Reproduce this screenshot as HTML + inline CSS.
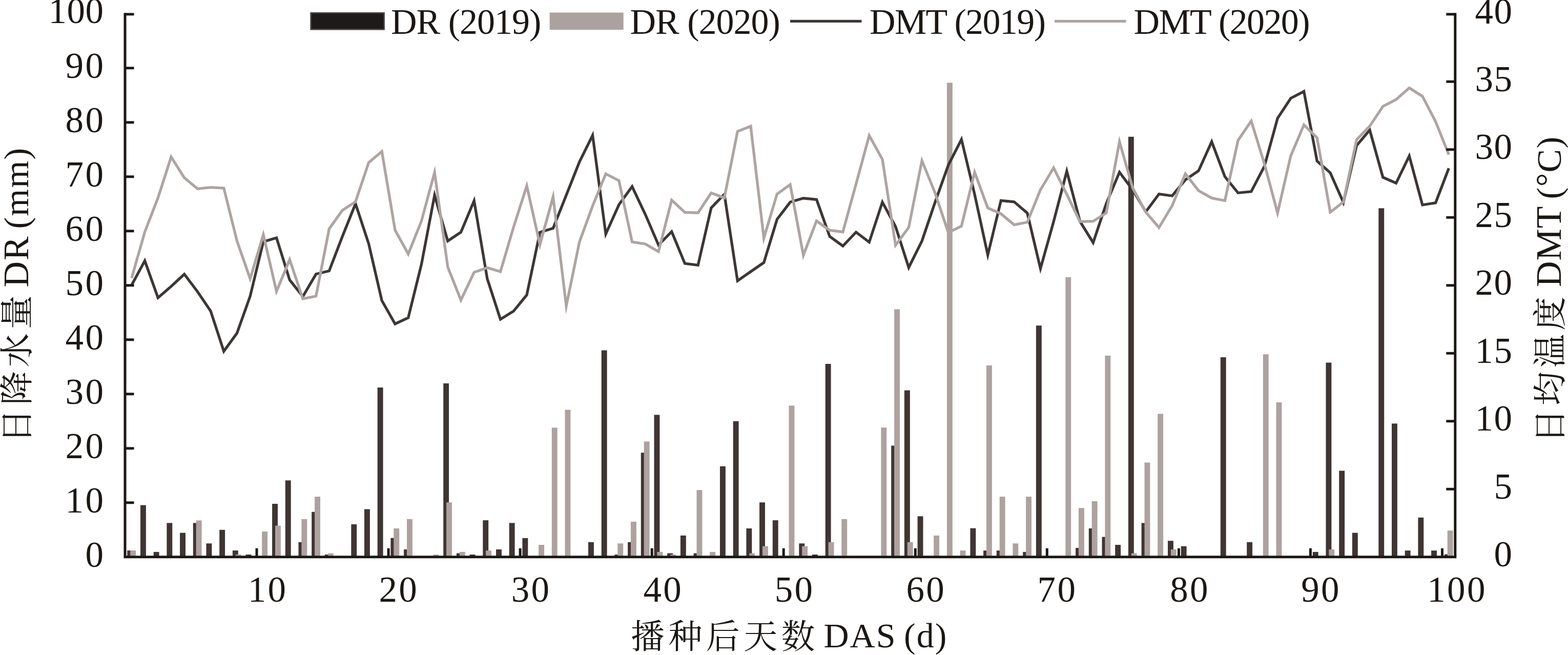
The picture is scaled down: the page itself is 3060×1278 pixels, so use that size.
<!DOCTYPE html><html><head><meta charset="utf-8"><title>chart</title><style>html,body{margin:0;padding:0;background:#fff}body{width:3060px;height:1278px;overflow:hidden}</style></head><body><svg width="3060" height="1278" viewBox="0 0 3060 1278" style="display:block">
<rect width="3060" height="1278" fill="#fff"/>
<g fill="#3f3533"><rect x="248.3" y="1074.1" width="10.9" height="12.7"/><rect x="274.0" y="985.6" width="10.9" height="101.2"/><rect x="299.7" y="1076.9" width="10.9" height="9.9"/><rect x="325.4" y="1020.4" width="10.9" height="66.4"/><rect x="351.1" y="1039.6" width="10.9" height="47.2"/><rect x="376.8" y="1020.4" width="10.9" height="66.4"/><rect x="402.5" y="1060.3" width="10.9" height="26.5"/><rect x="428.2" y="1033.8" width="10.9" height="53.0"/><rect x="453.9" y="1074.1" width="10.9" height="12.7"/><rect x="479.6" y="1082.0" width="10.9" height="4.8"/><rect x="531.1" y="983.0" width="10.9" height="103.8"/><rect x="556.8" y="937.3" width="10.9" height="149.5"/><rect x="582.5" y="1057.8" width="10.9" height="29.0"/><rect x="608.2" y="998.8" width="10.9" height="88.0"/><rect x="633.9" y="1082.0" width="10.9" height="4.8"/><rect x="685.3" y="1023.0" width="10.9" height="63.8"/><rect x="711.0" y="993.5" width="10.9" height="93.3"/><rect x="736.7" y="756.1" width="10.9" height="330.7"/><rect x="762.4" y="1049.7" width="10.9" height="37.1"/><rect x="788.1" y="1072.0" width="10.9" height="14.8"/><rect x="865.2" y="748.0" width="10.9" height="338.8"/><rect x="890.9" y="1079.5" width="10.9" height="7.3"/><rect x="916.6" y="1082.0" width="10.9" height="4.8"/><rect x="942.3" y="1015.1" width="10.9" height="71.7"/><rect x="968.0" y="1072.0" width="10.9" height="14.8"/><rect x="993.7" y="1020.4" width="10.9" height="66.4"/><rect x="1019.4" y="1049.9" width="10.9" height="36.9"/><rect x="1148.0" y="1057.8" width="10.9" height="29.0"/><rect x="1173.7" y="683.5" width="10.9" height="403.3"/><rect x="1199.4" y="1082.0" width="10.9" height="4.8"/><rect x="1225.1" y="1057.8" width="10.9" height="29.0"/><rect x="1250.8" y="883.3" width="10.9" height="203.5"/><rect x="1276.5" y="809.4" width="10.9" height="277.4"/><rect x="1302.2" y="1079.5" width="10.9" height="7.3"/><rect x="1327.9" y="1044.9" width="10.9" height="41.9"/><rect x="1353.6" y="1079.5" width="10.9" height="7.3"/><rect x="1405.0" y="909.8" width="10.9" height="177.0"/><rect x="1430.7" y="821.8" width="10.9" height="265.0"/><rect x="1456.4" y="1031.0" width="10.9" height="55.8"/><rect x="1482.1" y="980.3" width="10.9" height="106.5"/><rect x="1507.8" y="1015.1" width="10.9" height="71.7"/><rect x="1559.3" y="1060.3" width="10.9" height="26.5"/><rect x="1585.0" y="1082.0" width="10.9" height="4.8"/><rect x="1610.7" y="710.0" width="10.9" height="376.8"/><rect x="1739.2" y="869.5" width="10.9" height="217.3"/><rect x="1764.9" y="761.6" width="10.9" height="325.2"/><rect x="1790.6" y="1007.3" width="10.9" height="79.5"/><rect x="1893.4" y="1030.7" width="10.9" height="56.1"/><rect x="1919.1" y="1074.2" width="10.9" height="12.6"/><rect x="1944.8" y="1074.2" width="10.9" height="12.6"/><rect x="1996.2" y="1076.9" width="10.9" height="9.9"/><rect x="2021.9" y="635.2" width="10.9" height="451.6"/><rect x="2099.1" y="1069.1" width="10.9" height="17.7"/><rect x="2124.8" y="1031.0" width="10.9" height="55.8"/><rect x="2150.5" y="1047.6" width="10.9" height="39.2"/><rect x="2176.2" y="1063.1" width="10.9" height="23.7"/><rect x="2201.9" y="266.8" width="10.9" height="820.0"/><rect x="2227.6" y="1020.4" width="10.9" height="66.4"/><rect x="2279.0" y="1055.2" width="10.9" height="31.6"/><rect x="2304.7" y="1065.8" width="10.9" height="21.0"/><rect x="2381.8" y="697.1" width="10.9" height="389.7"/><rect x="2433.2" y="1057.8" width="10.9" height="29.0"/><rect x="2561.8" y="1076.9" width="10.9" height="9.9"/><rect x="2587.5" y="707.5" width="10.9" height="379.3"/><rect x="2613.2" y="918.5" width="10.9" height="168.3"/><rect x="2638.9" y="1039.6" width="10.9" height="47.2"/><rect x="2690.3" y="406.3" width="10.9" height="680.5"/><rect x="2716.0" y="826.4" width="10.9" height="260.4"/><rect x="2741.7" y="1074.2" width="10.9" height="12.6"/><rect x="2767.4" y="1009.8" width="10.9" height="77.0"/><rect x="2793.1" y="1074.2" width="10.9" height="12.6"/><rect x="2818.8" y="1081.5" width="10.9" height="5.3"/></g>
<g fill="#ada29f"><rect x="254.2" y="1074.1" width="10.9" height="12.7"/><rect x="382.7" y="1015.4" width="10.9" height="71.4"/><rect x="459.8" y="1082.0" width="10.9" height="4.8"/><rect x="511.2" y="1037.1" width="10.9" height="49.7"/><rect x="537.0" y="1025.7" width="10.9" height="61.1"/><rect x="588.4" y="1012.8" width="10.9" height="74.0"/><rect x="614.1" y="969.1" width="10.9" height="117.7"/><rect x="639.8" y="1079.7" width="10.9" height="7.1"/><rect x="768.3" y="1031.0" width="10.9" height="55.8"/><rect x="794.0" y="1012.8" width="10.9" height="74.0"/><rect x="845.4" y="1082.0" width="10.9" height="4.8"/><rect x="871.1" y="980.3" width="10.9" height="106.5"/><rect x="896.8" y="1076.9" width="10.9" height="9.9"/><rect x="948.2" y="1074.2" width="10.9" height="12.6"/><rect x="1051.1" y="1063.1" width="10.9" height="23.7"/><rect x="1076.8" y="834.5" width="10.9" height="252.3"/><rect x="1102.5" y="799.5" width="10.9" height="287.3"/><rect x="1205.3" y="1060.3" width="10.9" height="26.5"/><rect x="1231.0" y="1017.9" width="10.9" height="68.9"/><rect x="1256.7" y="861.4" width="10.9" height="225.4"/><rect x="1282.4" y="1076.9" width="10.9" height="9.9"/><rect x="1308.1" y="1082.0" width="10.9" height="4.8"/><rect x="1359.5" y="956.1" width="10.9" height="130.7"/><rect x="1385.2" y="1076.9" width="10.9" height="9.9"/><rect x="1462.3" y="1079.5" width="10.9" height="7.3"/><rect x="1488.0" y="1065.8" width="10.9" height="21.0"/><rect x="1539.5" y="791.4" width="10.9" height="295.4"/><rect x="1565.2" y="1065.8" width="10.9" height="21.0"/><rect x="1616.6" y="1057.8" width="10.9" height="29.0"/><rect x="1642.3" y="1012.8" width="10.9" height="74.0"/><rect x="1719.4" y="834.2" width="10.9" height="252.6"/><rect x="1745.1" y="603.4" width="10.9" height="483.4"/><rect x="1770.8" y="1057.8" width="10.9" height="29.0"/><rect x="1822.2" y="1044.9" width="10.9" height="41.9"/><rect x="1847.9" y="161.4" width="10.9" height="925.4"/><rect x="1873.6" y="1074.2" width="10.9" height="12.6"/><rect x="1925.0" y="713.0" width="10.9" height="373.8"/><rect x="1950.7" y="969.1" width="10.9" height="117.7"/><rect x="1976.4" y="1060.3" width="10.9" height="26.5"/><rect x="2002.1" y="969.1" width="10.9" height="117.7"/><rect x="2079.3" y="540.9" width="10.9" height="545.9"/><rect x="2105.0" y="991.2" width="10.9" height="95.6"/><rect x="2130.7" y="978.0" width="10.9" height="108.8"/><rect x="2156.4" y="693.9" width="10.9" height="392.9"/><rect x="2207.8" y="1079.5" width="10.9" height="7.3"/><rect x="2233.5" y="902.4" width="10.9" height="184.4"/><rect x="2259.2" y="807.4" width="10.9" height="279.4"/><rect x="2284.9" y="1072.0" width="10.9" height="14.8"/><rect x="2464.8" y="691.3" width="10.9" height="395.5"/><rect x="2490.5" y="785.1" width="10.9" height="301.7"/><rect x="2593.4" y="1072.0" width="10.9" height="14.8"/><rect x="2824.7" y="1035.2" width="10.9" height="51.6"/></g>
<polyline points="256.9,556.3 282.6,508.8 308.3,581.0 334.0,558.8 359.7,535.0 385.4,569.0 411.1,606.9 436.8,685.5 462.5,649.9 488.2,577.8 513.9,471.6 539.6,464.0 565.3,546.2 591.0,578.5 616.7,534.8 642.4,528.5 668.1,461.5 693.8,397.5 719.5,475.4 745.2,586.6 771.0,632.0 796.7,620.0 822.4,515.9 848.1,381.0 873.8,470.3 899.5,453.0 925.2,391.7 950.9,543.9 976.6,623.0 1002.3,607.1 1028.0,575.5 1053.7,453.3 1079.4,445.3 1105.1,380.8 1130.8,315.9 1156.5,264.0 1182.2,456.5 1207.9,399.3 1233.6,364.0 1259.3,418.3 1285.1,478.0 1310.8,452.0 1336.5,514.1 1362.2,517.3 1387.9,405.6 1413.6,379.0 1439.3,548.0 1465.0,530.0 1490.7,512.3 1516.4,428.0 1542.1,394.3 1567.8,386.8 1593.5,389.3 1619.2,461.4 1644.9,480.0 1670.6,453.0 1696.3,472.5 1722.0,394.5 1747.7,442.0 1773.4,522.0 1799.2,470.2 1824.9,394.3 1850.6,322.3 1876.3,272.0 1902.0,379.2 1927.7,497.5 1953.4,391.3 1979.1,393.8 2004.8,415.8 2030.5,524.0 2056.2,432.3 2081.9,334.0 2107.6,432.0 2133.3,473.5 2159.0,397.0 2184.7,336.0 2210.4,370.4 2236.1,413.0 2261.8,378.6 2287.5,382.1 2313.3,350.8 2339.0,333.3 2364.7,276.5 2390.4,344.7 2416.1,376.3 2441.8,373.8 2467.5,324.5 2493.2,230.9 2518.9,191.7 2544.6,178.3 2570.3,314.3 2596.0,337.1 2621.7,395.0 2647.4,284.0 2673.1,253.7 2698.8,346.0 2724.5,357.3 2750.2,304.3 2775.9,399.8 2801.6,395.8 2827.4,328.3" fill="none" stroke="#3c3734" stroke-width="5.3" stroke-linejoin="miter" stroke-miterlimit="10"/>
<polyline points="256.9,542.5 282.6,452.5 308.3,386.0 334.0,306.3 359.7,346.8 385.4,368.3 411.1,365.7 436.8,367.0 462.5,470.2 488.2,544.0 513.9,457.8 539.6,568.5 565.3,506.5 591.0,583.0 616.7,577.8 642.4,446.4 668.1,410.5 693.8,393.6 719.5,317.2 745.2,295.5 771.0,449.0 796.7,495.5 822.4,431.5 848.1,336.5 873.8,521.0 899.5,585.5 925.2,531.3 950.9,522.4 976.6,530.0 1002.3,443.0 1028.0,362.6 1053.7,477.3 1079.4,384.0 1105.1,597.0 1130.8,472.0 1156.5,401.8 1182.2,339.1 1207.9,352.5 1233.6,472.0 1259.3,476.0 1285.1,491.0 1310.8,390.4 1336.5,414.5 1362.2,415.2 1387.9,376.5 1413.6,386.1 1439.3,256.4 1465.0,246.3 1490.7,464.6 1516.4,378.6 1542.1,360.2 1567.8,498.0 1593.5,431.0 1619.2,449.5 1644.9,452.5 1670.6,359.0 1696.3,264.5 1722.0,310.9 1747.7,478.5 1773.4,443.7 1799.2,313.5 1824.9,376.6 1850.6,453.8 1876.3,441.1 1902.0,336.0 1927.7,405.7 1953.4,417.1 1979.1,438.6 2004.8,433.5 2030.5,370.3 2056.2,327.5 2081.9,379.2 2107.6,432.5 2133.3,431.7 2159.0,415.4 2184.7,276.4 2210.4,366.6 2236.1,414.0 2261.8,444.0 2287.5,401.3 2313.3,339.0 2339.0,372.0 2364.7,386.4 2390.4,391.5 2416.1,273.9 2441.8,236.0 2467.5,319.4 2493.2,415.5 2518.9,304.2 2544.6,243.6 2570.3,268.8 2596.0,414.0 2621.7,394.0 2647.4,272.6 2673.1,246.1 2698.8,207.6 2724.5,194.2 2750.2,171.5 2775.9,187.9 2801.6,237.2 2827.4,301.7" fill="none" stroke="#aea4a1" stroke-width="5.3" stroke-linejoin="miter" stroke-miterlimit="10"/>
<g stroke="#1b1713" stroke-width="5" fill="none">
<path d="M244.0,25.3 V1086.8 H2839.8 V25.3"/>
<path d="M244.0,980.8 h17.5"/>
<path d="M244.0,874.8 h17.5"/>
<path d="M244.0,768.8 h17.5"/>
<path d="M244.0,662.8 h17.5"/>
<path d="M244.0,556.8 h17.5"/>
<path d="M244.0,450.8 h17.5"/>
<path d="M244.0,344.8 h17.5"/>
<path d="M244.0,238.8 h17.5"/>
<path d="M244.0,132.8 h17.5"/>
<path d="M244.0,27.8 h17.5"/>
<path d="M2839.8,954.3 h-17.5"/>
<path d="M2839.8,821.8 h-17.5"/>
<path d="M2839.8,689.3 h-17.5"/>
<path d="M2839.8,556.8 h-17.5"/>
<path d="M2839.8,424.3 h-17.5"/>
<path d="M2839.8,291.8 h-17.5"/>
<path d="M2839.8,159.3 h-17.5"/>
<path d="M2839.8,27.8 h-17.5"/>
<path d="M501.0,1086.8 v-17"/>
<path d="M758.1,1086.8 v-17"/>
<path d="M1015.1,1086.8 v-17"/>
<path d="M1272.2,1086.8 v-17"/>
<path d="M1529.2,1086.8 v-17"/>
<path d="M1786.3,1086.8 v-17"/>
<path d="M2043.3,1086.8 v-17"/>
<path d="M2300.4,1086.8 v-17"/>
<path d="M2557.4,1086.8 v-17"/>
<path d="M2814.5,1086.8 v-17"/>
</g>
<g font-family="Liberation Serif, serif" font-size="68" fill="#1b1713">
<text x="205.5" y="1105.8" text-anchor="end" font-size="71" letter-spacing="3.5">0</text>
<text x="205.5" y="999.8" text-anchor="end" font-size="71" letter-spacing="3.5">10</text>
<text x="205.5" y="893.8" text-anchor="end" font-size="71" letter-spacing="3.5">20</text>
<text x="205.5" y="787.8" text-anchor="end" font-size="71" letter-spacing="3.5">30</text>
<text x="205.5" y="681.8" text-anchor="end" font-size="71" letter-spacing="3.5">40</text>
<text x="205.5" y="575.8" text-anchor="end" font-size="71" letter-spacing="3.5">50</text>
<text x="205.5" y="469.8" text-anchor="end" font-size="71" letter-spacing="3.5">60</text>
<text x="205.5" y="363.8" text-anchor="end" font-size="71" letter-spacing="3.5">70</text>
<text x="205.5" y="257.8" text-anchor="end" font-size="71" letter-spacing="3.5">80</text>
<text x="205.5" y="151.8" text-anchor="end" font-size="71" letter-spacing="3.5">90</text>
<text x="202.5" y="45.4" text-anchor="end" font-size="71" letter-spacing="0.5">100</text>
<text x="2952.5" y="1105.3" text-anchor="end" font-size="71" letter-spacing="1.5">0</text>
<text x="2952.5" y="972.8" text-anchor="end" font-size="71" letter-spacing="1.5">5</text>
<text x="2952.5" y="840.3" text-anchor="end" font-size="71" letter-spacing="1.5">10</text>
<text x="2952.5" y="707.8" text-anchor="end" font-size="71" letter-spacing="1.5">15</text>
<text x="2952.5" y="575.3" text-anchor="end" font-size="71" letter-spacing="1.5">20</text>
<text x="2952.5" y="442.8" text-anchor="end" font-size="71" letter-spacing="1.5">25</text>
<text x="2952.5" y="310.3" text-anchor="end" font-size="71" letter-spacing="1.5">30</text>
<text x="2952.5" y="177.8" text-anchor="end" font-size="71" letter-spacing="1.5">35</text>
<text x="2952.5" y="46.3" text-anchor="end" font-size="71" letter-spacing="1.5">40</text>
<text x="483.8" y="1174" font-size="71" letter-spacing="3.3">10</text>
<text x="739.4" y="1174" font-size="71" letter-spacing="3.3">20</text>
<text x="997.7" y="1174" font-size="71" letter-spacing="3.3">30</text>
<text x="1255.5" y="1174" font-size="71" letter-spacing="3.3">40</text>
<text x="1511.7" y="1174" font-size="71" letter-spacing="3.3">50</text>
<text x="1768.5" y="1174" font-size="71" letter-spacing="3.3">60</text>
<text x="2024.6" y="1174" font-size="71" letter-spacing="3.3">70</text>
<text x="2283.3" y="1174" font-size="71" letter-spacing="3.3">80</text>
<text x="2539.2" y="1174" font-size="71" letter-spacing="3.3">90</text>
<text x="2785.3" y="1174" font-size="71" letter-spacing="3.3">100</text>
<rect x="606.6" y="25.2" width="143" height="32.2" fill="#1d1a17" stroke="#4b4543" stroke-width="2.6"/>
<rect x="1072.7" y="24.5" width="144" height="33.6" fill="#aba2a0"/>
<path d="M1542,41.4 H1681.5" stroke="#3c3734" stroke-width="5.4"/>
<path d="M2058,41.4 H2197.5" stroke="#aea4a1" stroke-width="5.4"/>
<text x="763" y="66" font-size="70" letter-spacing="-1">DR (2019)</text>
<text x="1229.5" y="66" font-size="70" letter-spacing="-1">DR (2020)</text>
<text x="1697" y="66" font-size="70" letter-spacing="-1.6">DMT (2019)</text>
<text x="2212.5" y="66" font-size="70" letter-spacing="-1.6">DMT (2020)</text>
<text x="1607.5" y="1263" letter-spacing="2">DAS</text>
<text x="1764" y="1263" letter-spacing="2">(d)</text>
<text transform="translate(54.9,560.5) rotate(-90)" font-size="70" letter-spacing="2">DR</text>
<text transform="translate(55.3,446.5) rotate(-90)" letter-spacing="2.2">(mm)</text>
<text transform="translate(3045.5,560) rotate(-90)" font-size="70" letter-spacing="1">DMT</text>
<text transform="translate(3046,388.5) rotate(-90)" letter-spacing="1.5"><tspan>(</tspan><tspan font-size="66" dy="-3">°</tspan><tspan dy="3">C)</tspan></text>
</g>
<g fill="#1b1713" font-family="'Liberation Serif', 'Noto Serif CJK SC', serif" font-size="66">
<text x="1231" y="1265" letter-spacing="7.4">播种后天数</text>
<text transform="translate(55.6,864) rotate(-90)" letter-spacing="7.9">日降水量</text>
<text transform="translate(3047.5,864) rotate(-90)" letter-spacing="7.1">日均温度</text>
</g>
</svg></body></html>
